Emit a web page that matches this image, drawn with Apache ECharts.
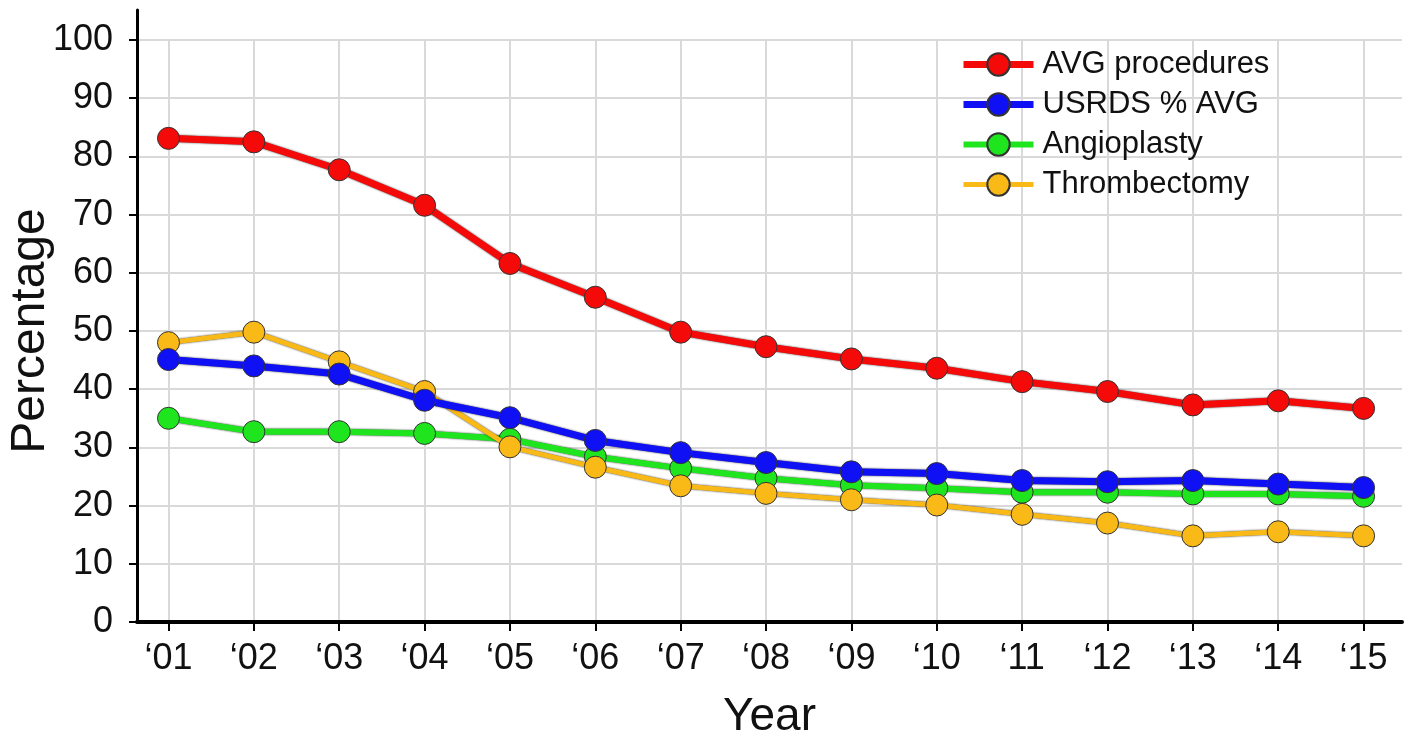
<!DOCTYPE html>
<html>
<head>
<meta charset="utf-8">
<script src="https://cdn.jsdelivr.net/npm/echarts@6/dist/echarts.min.js"></script>
<style>
html,body{margin:0;padding:0;background:#fff;}
#chart{width:1405px;height:743px;}
</style>
</head>
<body>
<div id="chart"></div>
<script>
// ---- data ----
const years = ['\u201801','\u201802','\u201803','\u201804','\u201805','\u201806','\u201807','\u201808','\u201809','\u201810','\u201811','\u201812','\u201813','\u201814','\u201815'];
const yTicks = [0,10,20,30,40,50,60,70,80,90,100];
const seriesNames = ['AVG procedures','USRDS % AVG','Angioplasty','Thrombectomy'];
const avgProcedures = [83.1,82.5,77.7,71.6,61.6,55.8,49.8,47.3,45.2,43.6,41.3,39.6,37.3,38.0,36.7];
const usrdsAvg      = [45.1,44.0,42.6,38.1,35.1,31.2,29.1,27.4,25.8,25.5,24.3,24.1,24.3,23.7,23.1];
const angioplasty   = [35.0,32.7,32.7,32.4,31.4,28.4,26.4,24.7,23.5,23.0,22.3,22.3,22.0,22.0,21.6];
const thrombectomy  = [48.0,49.8,44.7,39.6,30.1,26.6,23.4,22.1,21.0,20.1,18.5,17.0,14.8,15.5,14.8];

const xPos = years.map((_, i) => i + 1);
const toPairs = arr => arr.map((v, i) => [xPos[i], v]);

const FONT = '"Liberation Sans", Arial, sans-serif';
const colors = { 'AVG procedures': '#f50a0a', 'USRDS % AVG': '#1010f5', 'Angioplasty': '#1fe51f', 'Thrombectomy': '#f9b916' };
const widths = { 'AVG procedures': 7, 'USRDS % AVG': 7, 'Angioplasty': 6, 'Thrombectomy': 5 };

function mkSeries(name, arr, z) {
  return {
    name: name,
    type: 'line',
    data: toPairs(arr),
    xAxisIndex: 0, yAxisIndex: 0,
    symbol: 'circle',
    symbolSize: 22,
    z: z,
    lineStyle: { color: colors[name], width: widths[name], shadowColor: 'rgba(0,0,0,0.8)', shadowBlur: 2 },
    itemStyle: { color: colors[name], borderColor: '#333', borderWidth: 1 },
    emphasis: { disabled: true }
  };
}

const chart = echarts.init(document.getElementById('chart'), null, { renderer: 'canvas' });
chart.setOption({
  animation: false,
  backgroundColor: '#ffffff',
  textStyle: { fontFamily: FONT },
  legend: {
    data: seriesNames.map(n => ({ name: n, lineStyle: { width: widths[n], color: colors[n] } })),
    left: 955, top: 44,
    orient: 'vertical',
    itemWidth: 70, itemHeight: 28, itemGap: 9,
    textStyle: { fontSize: 31, color: '#111', fontFamily: FONT, padding: [0,0,0,4] }
  },
  grid: [
    { left: 137, right: 3, top: 40, bottom: 121, containLabel: false, outerBoundsMode: 'none' },
    { left: 137, top: 10, bottom: 121, width: 10, containLabel: false, outerBoundsMode: 'none' }
  ],
  xAxis: [
    {
      type: 'value', gridIndex: 0,
      min: 0.631, max: 15.45,
      name: 'Year', nameLocation: 'middle', nameGap: 72, nameMoveOverlap: false,
      nameTextStyle: { fontSize: 46, color: '#111', fontFamily: FONT },
      axisLine: { show: true, onZero: false, lineStyle: { color: '#000', width: 4 } },
      axisTick: { show: true, customValues: xPos, length: 9, lineStyle: { color: '#000', width: 2 } },
      axisLabel: {
        customValues: xPos, margin: 19, fontSize: 36, color: '#111', fontFamily: FONT,
        formatter: v => years[Math.round(v) - 1] || ''
      },
      splitLine: { show: true, lineStyle: { color: '#d9d9d9', width: 2 } }
    },
    { type: 'value', gridIndex: 1, show: false, min: 0, max: 1 }
  ],
  yAxis: [
    {
      type: 'value', gridIndex: 0,
      min: 0, max: 100, interval: 10,
      name: 'Percentage', nameLocation: 'middle', nameGap: 82, nameRotate: 90, nameMoveOverlap: false,
      nameTextStyle: { fontSize: 48, color: '#111', fontFamily: FONT },
      axisLine: { show: true, onZero: false, lineStyle: { color: '#000', width: 3 } },
      axisTick: { show: true, length: 8, lineStyle: { color: '#000', width: 2 } },
      axisLabel: { margin: 24, fontSize: 36, color: '#111', fontFamily: FONT,
        formatter: v => (yTicks.indexOf(v) >= 0 ? String(v) : '') },
      splitLine: { show: true, lineStyle: { color: '#d9d9d9', width: 2 } }
    },
    {
      type: 'value', gridIndex: 1, min: 0, max: 1,
      axisLine: { show: true, onZero: false, lineStyle: { color: '#000', width: 3 } },
      axisTick: { show: false }, axisLabel: { show: false }, splitLine: { show: false }
    }
  ],
  series: [
    mkSeries('Angioplasty', angioplasty, 2),
    mkSeries('Thrombectomy', thrombectomy, 3),
    mkSeries('USRDS % AVG', usrdsAvg, 4),
    mkSeries('AVG procedures', avgProcedures, 5)
  ]
});
</script>
</body>
</html>
